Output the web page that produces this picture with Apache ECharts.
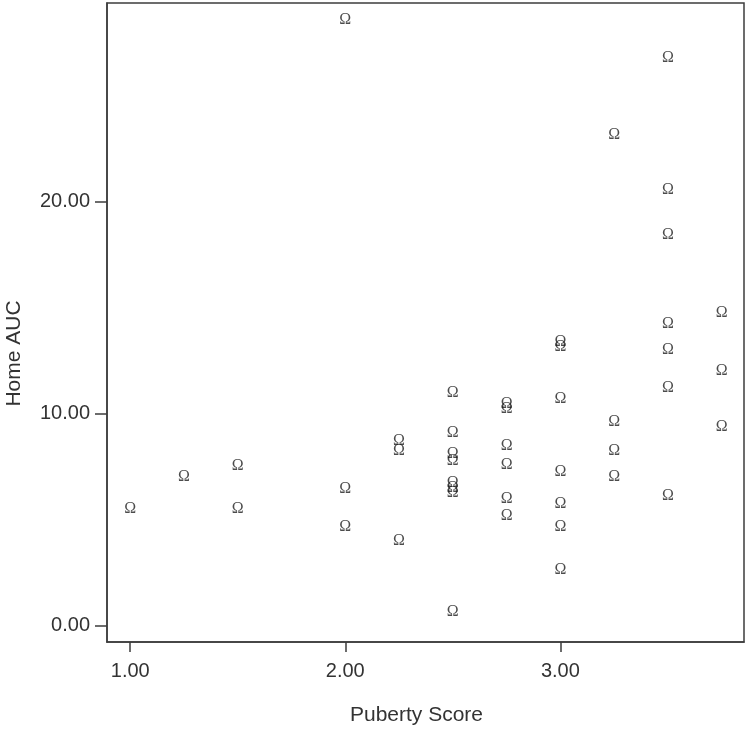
<!DOCTYPE html>
<html lang="en">
<head>
    <meta charset="UTF-8">
    <title>Home AUC vs Puberty Score</title>
    <script src="https://cdn.jsdelivr.net/npm/echarts@6/dist/echarts.min.js"></script>
    <style>
        html, body { margin: 0; padding: 0; background: #fff; }
        #container { width: 750px; height: 732px; }
    </style>
</head>
<body>
<div id="container"></div>
<script type="text/javascript">
    // puberty score of each case
    let pubertyScore = [
        1.00, 1.25, 1.50, 1.50,
        2.00, 2.00, 2.00,
        2.25, 2.25, 2.25,
        2.50, 2.50, 2.50, 2.50, 2.50, 2.50, 2.50, 2.50,
        2.75, 2.75, 2.75, 2.75, 2.75, 2.75,
        3.00, 3.00, 3.00, 3.00, 3.00, 3.00, 3.00,
        3.25, 3.25, 3.25, 3.25,
        3.50, 3.50, 3.50, 3.50, 3.50, 3.50, 3.50,
        3.75, 3.75, 3.75
    ];
    // home AUC of each case, same order
    let homeAUC = [
        5.58, 7.07, 7.62, 5.58,
        28.65, 6.52, 4.71,
        8.77, 8.29, 4.08,
        11.03, 9.16, 8.15, 7.82, 6.79, 6.55, 6.31, 0.71,
        10.52, 10.28, 8.56, 7.67, 6.05, 5.26,
        13.44, 13.23, 10.76, 7.30, 5.81, 4.74, 2.70,
        23.22, 9.66, 8.33, 7.07,
        26.83, 20.62, 18.50, 14.29, 13.09, 11.28, 6.20,
        14.81, 12.10, 9.43
    ];
    let xTicks = [1, 2, 3];
    let yTicks = [0, 10, 20];

    let points = [];
    for (let i = 0; i < pubertyScore.length; i++) {
        points.push([pubertyScore[i], homeAUC[i]]);
    }

    let lineColor = '#3c3c3c';
    let textStyle = {color: '#333', fontFamily: 'Liberation Sans', fontSize: 20};

    let myChart = echarts.init(document.getElementById('container'));
    let option = {
        animation: false,
        grid: {
            left: 107, right: 6, top: 3, bottom: 90,
            outerBoundsMode: 'none',
            containLabel: false,
            show: true, borderColor: lineColor, borderWidth: 1.5
        },
        xAxis: {
            type: 'value',
            min: 0.892,
            max: 3.854,
            name: 'Puberty Score',
            nameLocation: 'middle',
            nameGap: 63,
            nameTextStyle: Object.assign({}, textStyle, {fontSize: 21, padding: [0, 18, 0, 0]}),
            splitLine: {show: false},
            axisLine: {onZero: false, lineStyle: {color: lineColor, width: 1.5}},
            axisTick: {customValues: xTicks, length: 10, lineStyle: {color: lineColor, width: 1.5}},
            axisLabel: Object.assign({}, textStyle, {
                customValues: xTicks, margin: 19,
                formatter: function (v) { return v.toFixed(2); }
            })
        },
        yAxis: {
            type: 'value',
            min: -0.78,
            max: 29.36,
            name: 'Home AUC',
            nameLocation: 'middle',
            nameRotate: 90,
            nameGap: 82,
            nameTextStyle: Object.assign({}, textStyle, {fontSize: 21, padding: [0, 62, 0, 0]}),
            splitLine: {show: false},
            axisLine: {onZero: false, lineStyle: {color: lineColor, width: 1.5}},
            axisTick: {customValues: yTicks, length: 12, lineStyle: {color: lineColor, width: 1.5}},
            axisLabel: Object.assign({}, textStyle, {
                customValues: yTicks, margin: 17,
                formatter: function (v) { return v.toFixed(2); }
            })
        },
        series: [{
            type: 'scatter',
            data: points,
            symbolSize: 1,
            itemStyle: {color: 'rgba(0,0,0,0)'},
            label: {
                show: true,
                position: 'inside',
                offset: [0, 1.5],
                formatter: 'Ω',
                color: '#1e1e1e',
                fontFamily: 'Liberation Serif',
                fontSize: 16
            },
            emphasis: {disabled: true}
        }]
    };
    myChart.setOption(option);
</script>
</body>
</html>
